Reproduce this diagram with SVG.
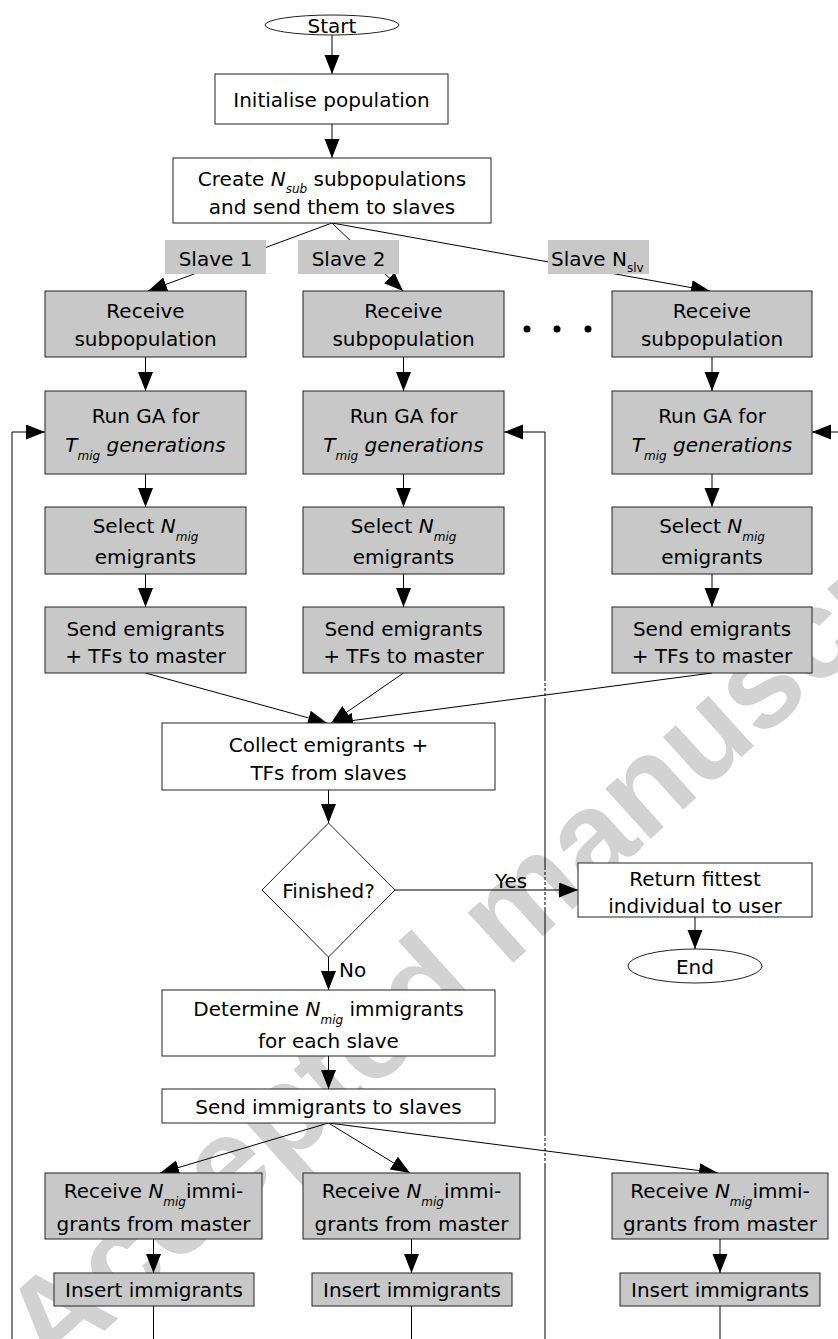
<svg xmlns="http://www.w3.org/2000/svg" width="838" height="1339" viewBox="0 0 838 1339">
<style>
text{font-family:"DejaVu Sans","Liberation Sans",sans-serif;font-size:20px;fill:#000}
.c{text-anchor:middle}
.i{font-style:italic}
.sub{font-size:12px}
.g{fill:#c8c8c8;stroke:#222;stroke-width:1}
.w{fill:#fff;stroke:#222;stroke-width:1}
.lbl{fill:#c8c8c8;stroke:none}
.ln{fill:none;stroke:#000;stroke-width:1}
.ar{marker-end:url(#ah)}
.dash{stroke-dasharray:3 2}
.wm{font-family:"Liberation Sans",Arial,sans-serif;font-weight:bold;font-size:128px;fill:#d2d2d2}
</style>
<defs>
<marker id="ah" markerUnits="userSpaceOnUse" markerWidth="20" markerHeight="16" refX="19" refY="7.5" orient="auto">
<path d="M0,0 L19,7.5 L0,15 z" fill="#000"/>
</marker>
</defs>
<rect width="838" height="1339" fill="#fff"/>
<g id="watermark">
<text class="wm" transform="translate(52,1378) rotate(-42)">Accepted manuscript</text>
</g>
<g id="connectors">
<line class="ln ar" x1="332" y1="35" x2="332" y2="74"/>
<line class="ln ar" x1="332" y1="124" x2="332" y2="158"/>
<line class="ln ar" x1="332" y1="223" x2="148" y2="291"/>
<line class="ln ar" x1="332" y1="223" x2="403" y2="291"/>
<line class="ln ar" x1="332" y1="223" x2="710" y2="291"/>
<line class="ln ar" x1="145.5" y1="357" x2="145.5" y2="391"/>
<line class="ln ar" x1="403.5" y1="357" x2="403.5" y2="391"/>
<line class="ln ar" x1="712" y1="357" x2="712" y2="391"/>
<line class="ln ar" x1="145.5" y1="474" x2="145.5" y2="507"/>
<line class="ln ar" x1="403.5" y1="474" x2="403.5" y2="507"/>
<line class="ln ar" x1="712" y1="474" x2="712" y2="507"/>
<line class="ln ar" x1="145.5" y1="574" x2="145.5" y2="607"/>
<line class="ln ar" x1="403.5" y1="574" x2="403.5" y2="607"/>
<line class="ln ar" x1="712" y1="574" x2="712" y2="607"/>
<line class="ln ar" x1="145.5" y1="673" x2="327" y2="723"/>
<line class="ln ar" x1="403.5" y1="673" x2="331" y2="723"/>
<line class="ln ar" x1="712" y1="673" x2="334" y2="723"/>
<line class="ln ar" x1="328.5" y1="790" x2="328.5" y2="823"/>
<line class="ln ar" x1="395" y1="890" x2="578" y2="890"/>
<line class="ln ar" x1="695" y1="917" x2="695" y2="949"/>
<line class="ln ar" x1="328.5" y1="957" x2="328.5" y2="990"/>
<line class="ln ar" x1="328.5" y1="1056" x2="328.5" y2="1089"/>
<line class="ln ar" x1="328.5" y1="1123" x2="160" y2="1173"/>
<line class="ln ar" x1="328.5" y1="1123" x2="410" y2="1173"/>
<line class="ln ar" x1="328.5" y1="1123" x2="718" y2="1173"/>
<line class="ln ar" x1="153.5" y1="1239" x2="153.5" y2="1273"/>
<line class="ln ar" x1="411.5" y1="1239" x2="411.5" y2="1273"/>
<line class="ln ar" x1="720" y1="1239" x2="720" y2="1273"/>
<line class="ln" x1="153.5" y1="1306" x2="153.5" y2="1339"/>
<line class="ln" x1="411.5" y1="1306" x2="411.5" y2="1339"/>
<line class="ln" x1="720" y1="1306" x2="720" y2="1339"/>
<polyline class="ln ar" points="12,1339 12,432 45,432"/>
<polyline class="ln" points="545,678 545,432"/>
<line class="ln ar" x1="545" y1="432" x2="504" y2="432"/>
<line class="ln dash" x1="545" y1="678" x2="545" y2="700"/>
<line class="ln" x1="545" y1="700" x2="545" y2="867"/>
<line class="ln dash" x1="545" y1="867" x2="545" y2="907"/>
<line class="ln" x1="545" y1="907" x2="545" y2="1133"/>
<line class="ln dash" x1="545" y1="1133" x2="545" y2="1163"/>
<line class="ln" x1="545" y1="1163" x2="545" y2="1339"/>
<line class="ln ar" x1="838" y1="432" x2="812" y2="432"/>
</g>
<g id="start">
<ellipse cx="332" cy="25" rx="67" ry="10" class="w"/>
<text class="c" x="332" y="33">Start</text>
</g>
<g id="init">
<rect x="215" y="74" width="233" height="50" class="w"/>
<text class="c" x="331.5" y="107">Initialise population</text>
</g>
<g id="create">
<rect x="173" y="158" width="318" height="65" class="w"/>
<text class="c" x="332" y="186">Create <tspan class="i">N</tspan><tspan class="i sub" dy="7">sub</tspan><tspan dy="-7"> subpopulations</tspan></text>
<text class="c" x="332" y="214">and send them to slaves</text>
</g>
<g id="label-slave1">
<rect x="165" y="240" width="101" height="34" class="lbl"/>
<text class="c" x="215.5" y="266">Slave 1</text>
</g>
<g id="label-slave2">
<rect x="298" y="240" width="101" height="34" class="lbl"/>
<text class="c" x="348.5" y="266">Slave 2</text>
</g>
<g id="label-slaveN">
<rect x="548" y="240" width="101" height="34" class="lbl"/>
<text x="551" y="266">Slave N<tspan class="sub" dy="6">slv</tspan></text>
</g>
<g id="dots">
<circle cx="527" cy="329" r="3.5"/>
<circle cx="557" cy="329" r="3.5"/>
<circle cx="588" cy="329" r="3.5"/>
</g>
<g id="receive1">
<rect x="45" y="291" width="201" height="66" class="g"/>
<text class="c" x="145.5" y="318">Receive</text>
<text class="c" x="145.5" y="346">subpopulation</text>
</g>
<g id="receive2">
<rect x="303" y="291" width="201" height="66" class="g"/>
<text class="c" x="403.5" y="318">Receive</text>
<text class="c" x="403.5" y="346">subpopulation</text>
</g>
<g id="receiveN">
<rect x="612" y="291" width="200" height="66" class="g"/>
<text class="c" x="712" y="318">Receive</text>
<text class="c" x="712" y="346">subpopulation</text>
</g>
<g id="run1">
<rect x="45" y="391" width="201" height="83" class="g"/>
<text class="c" x="145.5" y="423">Run GA for</text>
<text class="c i" x="145.5" y="452">T<tspan class="sub" dy="8">mig</tspan><tspan dy="-8"> generations</tspan></text>
</g>
<g id="run2">
<rect x="303" y="391" width="201" height="83" class="g"/>
<text class="c" x="403.5" y="423">Run GA for</text>
<text class="c i" x="403.5" y="452">T<tspan class="sub" dy="8">mig</tspan><tspan dy="-8"> generations</tspan></text>
</g>
<g id="runN">
<rect x="612" y="391" width="200" height="83" class="g"/>
<text class="c" x="712" y="423">Run GA for</text>
<text class="c i" x="712" y="452">T<tspan class="sub" dy="8">mig</tspan><tspan dy="-8"> generations</tspan></text>
</g>
<g id="select1">
<rect x="45" y="507" width="201" height="67" class="g"/>
<text class="c" x="145.5" y="533">Select <tspan class="i">N</tspan><tspan class="i sub" dy="8">mig</tspan></text>
<text class="c" x="145.5" y="564">emigrants</text>
</g>
<g id="select2">
<rect x="303" y="507" width="201" height="67" class="g"/>
<text class="c" x="403.5" y="533">Select <tspan class="i">N</tspan><tspan class="i sub" dy="8">mig</tspan></text>
<text class="c" x="403.5" y="564">emigrants</text>
</g>
<g id="selectN">
<rect x="612" y="507" width="200" height="67" class="g"/>
<text class="c" x="712" y="533">Select <tspan class="i">N</tspan><tspan class="i sub" dy="8">mig</tspan></text>
<text class="c" x="712" y="564">emigrants</text>
</g>
<g id="send1">
<rect x="45" y="607" width="201" height="66" class="g"/>
<text class="c" x="145.5" y="636">Send emigrants</text>
<text class="c" x="145.5" y="663">+ TFs to master</text>
</g>
<g id="send2">
<rect x="303" y="607" width="201" height="66" class="g"/>
<text class="c" x="403.5" y="636">Send emigrants</text>
<text class="c" x="403.5" y="663">+ TFs to master</text>
</g>
<g id="sendN">
<rect x="612" y="607" width="200" height="66" class="g"/>
<text class="c" x="712" y="636">Send emigrants</text>
<text class="c" x="712" y="663">+ TFs to master</text>
</g>
<g id="collect">
<rect x="162" y="723" width="333" height="67" class="w"/>
<text class="c" x="328.5" y="752">Collect emigrants +</text>
<text class="c" x="328.5" y="780">TFs from slaves</text>
</g>
<g id="finished">
<polygon points="328.5,823 395,890 328.5,957 262,890" class="w"/>
<text class="c" x="328.5" y="898">Finished?</text>
</g>
<g id="edge-labels">
<text x="495" y="888">Yes</text>
<text x="339" y="977">No</text>
</g>
<g id="return">
<rect x="578" y="863" width="234" height="54" class="w"/>
<text class="c" x="695" y="886">Return fittest</text>
<text class="c" x="695" y="913">individual to user</text>
</g>
<g id="end">
<ellipse cx="695" cy="966" rx="67" ry="17" class="w"/>
<text class="c" x="695" y="974">End</text>
</g>
<g id="determine">
<rect x="162" y="990" width="333" height="66" class="w"/>
<text class="c" x="328.5" y="1016">Determine <tspan class="i">N</tspan><tspan class="i sub" dy="8">mig</tspan><tspan dy="-8"> immigrants</tspan></text>
<text class="c" x="328.5" y="1048">for each slave</text>
</g>
<g id="sendimm">
<rect x="162" y="1089" width="333" height="34" class="w"/>
<text class="c" x="328.5" y="1114">Send immigrants to slaves</text>
</g>
<g id="recimm1">
<rect x="45" y="1173" width="217" height="66" class="g"/>
<text class="c" x="153.5" y="1198">Receive <tspan class="i">N</tspan><tspan class="i sub" dy="8">mig</tspan><tspan dy="-8">immi-</tspan></text>
<text class="c" x="153.5" y="1231">grants from master</text>
</g>
<g id="recimm2">
<rect x="303" y="1173" width="217" height="66" class="g"/>
<text class="c" x="411.5" y="1198">Receive <tspan class="i">N</tspan><tspan class="i sub" dy="8">mig</tspan><tspan dy="-8">immi-</tspan></text>
<text class="c" x="411.5" y="1231">grants from master</text>
</g>
<g id="recimm3">
<rect x="612" y="1173" width="216" height="66" class="g"/>
<text class="c" x="720" y="1198">Receive <tspan class="i">N</tspan><tspan class="i sub" dy="8">mig</tspan><tspan dy="-8">immi-</tspan></text>
<text class="c" x="720" y="1231">grants from master</text>
</g>
<g id="insert1">
<rect x="54" y="1273" width="200" height="33" class="g"/>
<text class="c" x="154" y="1297">Insert immigrants</text>
</g>
<g id="insert2">
<rect x="312" y="1273" width="200" height="33" class="g"/>
<text class="c" x="412" y="1297">Insert immigrants</text>
</g>
<g id="insert3">
<rect x="620" y="1273" width="200" height="33" class="g"/>
<text class="c" x="720" y="1297">Insert immigrants</text>
</g>
</svg>
